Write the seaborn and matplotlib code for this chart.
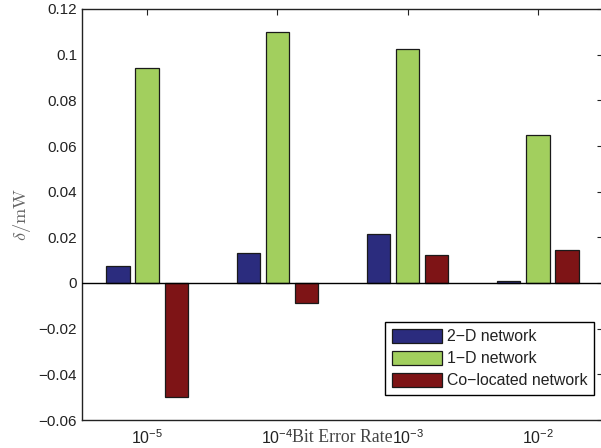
import seaborn as sns
import numpy as np
import pandas as pd
import matplotlib.pyplot as plt

ber_labels = ['$10^{-5}$', '$10^{-4}$', '$10^{-3}$', '$10^{-2}$']
net_2d = [0.0075, 0.0131, 0.0213, 0.0009]
net_1d = [0.0941, 0.1101, 0.1027, 0.0648]
net_co = [-0.0500, -0.0087, 0.0123, 0.0143]
series = ['2\u2212D network', '1\u2212D network', 'Co\u2212located network']
colors = ['#2b2c7e', '#a2cf5e', '#7e1416']

sns.set_style('white')
plt.rcParams['font.family'] = ['Liberation Sans', 'DejaVu Sans']
plt.rcParams['mathtext.fontset'] = 'custom'
plt.rcParams['mathtext.rm'] = 'Liberation Sans'
plt.rcParams['mathtext.it'] = 'Liberation Sans:italic'
plt.rcParams['mathtext.bf'] = 'Liberation Sans:bold'

df = pd.DataFrame({
    'ber': ber_labels * 3,
    'value': net_2d + net_1d + net_co,
    'network': [series[0]] * 4 + [series[1]] * 4 + [series[2]] * 4,
})

fig = plt.figure(figsize=(6.01, 4.48), dpi=100)
ax = fig.add_axes([82 / 601, 28 / 448, 521 / 601, 411 / 448])

sns.barplot(data=df, x='ber', y='value', hue='network', hue_order=series,
            palette=colors, width=0.67, gap=0.2, edgecolor='#1a1a1a',
            linewidth=0.9, saturation=1, ax=ax)
ax.axhline(0, color='black', lw=1.0, zorder=5)

ax.set_xlim(-0.5, 3.5)
ax.set_ylim(-0.06, 0.12)
yt = np.arange(-0.06, 0.1201, 0.02)
ax.set_yticks(yt)
ax.set_yticklabels(['\u22120.06', '\u22120.04', '\u22120.02', '0', '0.02',
                    '0.04', '0.06', '0.08', '0.1', '0.12'], fontsize=11)
ax.set_xticks(range(4))
ax.set_xticklabels(ber_labels, fontsize=11.5)
ax.tick_params(direction='in', length=4, width=0.8, top=True, right=True,
               colors='#222222', labelcolor='#222222')
ax.tick_params(axis='x', pad=6)
for s in ax.spines.values():
    s.set_color('#222222')
    s.set_linewidth(1.0)

ax.set_xlabel('Bit Error Rate', family='Liberation Serif', fontsize=12.8,
              color='#444444')
ax.xaxis.set_label_coords(0.5, -0.022)
ax.set_ylabel(r'$\delta/\mathrm{mW}$', fontsize=13.2, color='#666666',
              math_fontfamily='cm')
ax.yaxis.set_label_coords(-0.094, 0.5)

leg = ax.legend(loc='lower right', bbox_to_anchor=(594 / 601, 53 / 448),
                bbox_transform=fig.transFigure, borderaxespad=0,
                fancybox=False, framealpha=1, edgecolor='black',
                fontsize=11.4, handlelength=3.15, handleheight=1.0,
                handletextpad=0.32, labelspacing=0.42, borderpad=0.42,
                title=None)
leg.get_frame().set_linewidth(1.0)
for t in leg.get_texts():
    t.set_color('#222222')

fig.savefig('out.png', dpi=100)
